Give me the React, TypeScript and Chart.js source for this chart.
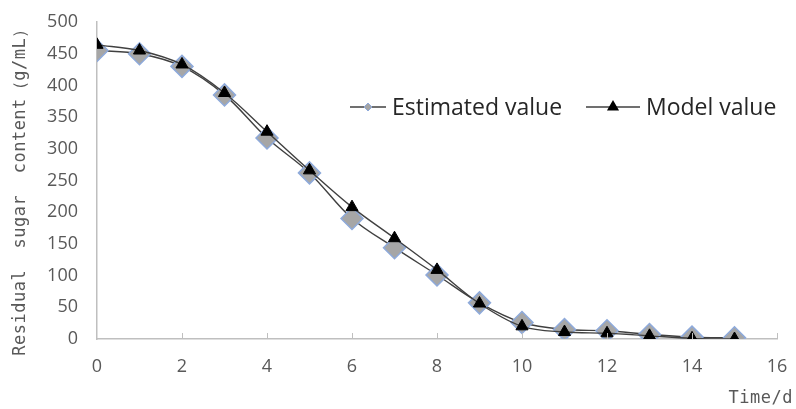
import React, { useEffect, useRef } from "react";
import { Chart, registerables } from "chart.js";

Chart.register(...registerables);

const days = [0, 1, 2, 3, 4, 5, 6, 7, 8, 9, 10, 11, 12, 13, 14, 15];
const estimatedValues = [455, 450, 430, 385, 317, 262, 190, 144, 101, 57, 26, 15, 13, 7, 3, 2];
const modelValues = [464, 455, 433, 388, 327, 266, 208, 159, 109, 56, 20, 11, 9, 5, 1, 0];
const xTicks = [0, 2, 4, 6, 8, 10, 12, 14, 16];
const yTicks = [0, 50, 100, 150, 200, 250, 300, 350, 400, 450, 500];
const seriesNames = ["Estimated value", "Model value"];
const yTitle = "Residual  sugar  content（g/mL）";
const xTitle = "Time/d";

const AXIS_COLOR = "#bfbfbf";
const LABEL_COLOR = "#595959";
const LINE_COLOR = "#404040";

const decorPlugin = {
  id: "decor",
  afterDraw(chart: any) {
    const ctx = chart.ctx as CanvasRenderingContext2D;
    const area = chart.chartArea;
    const xs = chart.scales.x;
    ctx.save();
    // inward x ticks
    ctx.strokeStyle = AXIS_COLOR;
    ctx.lineWidth = 1;
    xTicks.forEach((v) => {
      if (v === 0) return;
      const px = Math.round(xs.getPixelForValue(v)) + 0.5;
      ctx.beginPath();
      ctx.moveTo(px, area.bottom);
      ctx.lineTo(px, area.bottom - 6);
      ctx.stroke();
    });

    // y title
    ctx.fillStyle = LABEL_COLOR;
    ctx.font = '17px "DejaVu Sans Mono"';
    (ctx as any).letterSpacing = "0px";
    const baseW = ctx.measureText(yTitle).width;
    const targetW = 335;
    const sp = (targetW - baseW) / (yTitle.length - 1);
    (ctx as any).letterSpacing = sp + "px";
    ctx.save();
    ctx.translate(21, 188);
    ctx.rotate(-Math.PI / 2);
    ctx.textAlign = "center";
    ctx.textBaseline = "middle";
    ctx.fillText(yTitle, 0, 0);
    ctx.restore();

    // x title
    (ctx as any).letterSpacing = "0.5px";
    ctx.font = '17px "DejaVu Sans Mono"';
    ctx.textAlign = "right";
    ctx.textBaseline = "middle";
    ctx.fillText(xTitle, 793, 399);
    (ctx as any).letterSpacing = "0px";

    // legend
    const ds = chart.data.datasets;
    const ly = 107;
    ctx.font = '23px "Open Sans"';
    ctx.textAlign = "left";
    ctx.textBaseline = "middle";
    const items = [
      { x0: 350, x1: 386, tx: 392, kind: "diamond" },
      { x0: 586, x1: 640, tx: 646, kind: "triangle" },
    ];
    items.forEach((it, i) => {
      ctx.strokeStyle = LINE_COLOR;
      ctx.lineWidth = 1.5;
      ctx.beginPath();
      ctx.moveTo(it.x0, ly);
      ctx.lineTo(it.x1, ly);
      ctx.stroke();
      const cx = (it.x0 + it.x1) / 2;
      if (it.kind === "diamond") {
        const r = 4;
        ctx.beginPath();
        ctx.moveTo(cx - r, ly);
        ctx.lineTo(cx, ly - r);
        ctx.lineTo(cx + r, ly);
        ctx.lineTo(cx, ly + r);
        ctx.closePath();
        ctx.fillStyle = "#a5a5a5";
        ctx.fill();
        ctx.strokeStyle = "#8eaadb";
        ctx.lineWidth = 1;
        ctx.stroke();
      } else {
        const r = 7;
        ctx.beginPath();
        ctx.moveTo(cx, ly - r);
        ctx.lineTo(cx + r * 0.866, ly + r * 0.5);
        ctx.lineTo(cx - r * 0.866, ly + r * 0.5);
        ctx.closePath();
        ctx.fillStyle = "#000";
        ctx.fill();
      }
      ctx.fillStyle = "#262626";
      ctx.fillText(ds[i].label, it.tx, ly + 1);
    });
    ctx.restore();
  },
};

export default function App() {
  const ref = useRef<HTMLCanvasElement | null>(null);
  useEffect(() => {
    if (!ref.current) return;
    const chart = new Chart(ref.current, {
      type: "line",
      data: {
        datasets: [
          {
            label: seriesNames[0],
            data: days.map((d, i) => ({ x: d, y: estimatedValues[i] })),
            borderColor: LINE_COLOR,
            borderWidth: 1.4,
            tension: 0.35,
            pointStyle: "rectRot",
            pointRadius: 11,
            pointBackgroundColor: "#a6a6a6",
            pointBorderColor: "#8eaadb",
            pointBorderWidth: 1.5,
            order: 1,
          },
          {
            label: seriesNames[1],
            data: days.map((d, i) => ({ x: d, y: modelValues[i] })),
            borderColor: LINE_COLOR,
            borderWidth: 1.4,
            tension: 0.35,
            pointStyle: "triangle",
            pointRadius: 7,
            pointBackgroundColor: "#000000",
            pointBorderColor: "#000000",
            pointBorderWidth: 1,
            order: 0,
          },
        ],
      },
      options: {
        animation: false,
        responsive: true,
        maintainAspectRatio: false,
        layout: { padding: { left: 0, right: 19, top: 22, bottom: 0 } },
        plugins: {
          legend: { display: false },
          tooltip: { enabled: false },
        },
        scales: {
          x: {
            type: "linear",
            min: xTicks[0],
            max: xTicks[xTicks.length - 1],
            afterBuildTicks: (s: any) => {
              s.ticks = xTicks.map((v) => ({ value: v }));
            },
            afterFit: (s: any) => {
              s.height = 70;
              s.paddingLeft = 0;
              s.paddingRight = 0;
            },
            grid: { display: false, drawTicks: false, tickLength: 0 },
            border: { display: true, color: AXIS_COLOR, width: 1.5 },
            ticks: {
              color: LABEL_COLOR,
              font: { family: "Open Sans", size: 18 },
              padding: 17,
              maxRotation: 0,
            },
          },
          y: {
            type: "linear",
            min: yTicks[0],
            max: yTicks[yTicks.length - 1],
            afterBuildTicks: (s: any) => {
              s.ticks = yTicks.map((v) => ({ value: v }));
            },
            afterFit: (s: any) => {
              s.width = 97;
              s.paddingTop = 0;
              s.paddingBottom = 0;
            },
            grid: { display: false, drawTicks: false, tickLength: 0 },
            border: { display: true, color: AXIS_COLOR, width: 1.5 },
            ticks: {
              color: LABEL_COLOR,
              font: { family: "Open Sans", size: 18 },
              padding: 19,
            },
          },
        },
      },
      plugins: [decorPlugin],
    });
    return () => chart.destroy();
  }, []);
  return (
    <div style={{ position: "fixed", left: 0, top: 0, width: 796, height: 409, background: "#fff" }}>
      <canvas ref={ref} />
    </div>
  );
}
